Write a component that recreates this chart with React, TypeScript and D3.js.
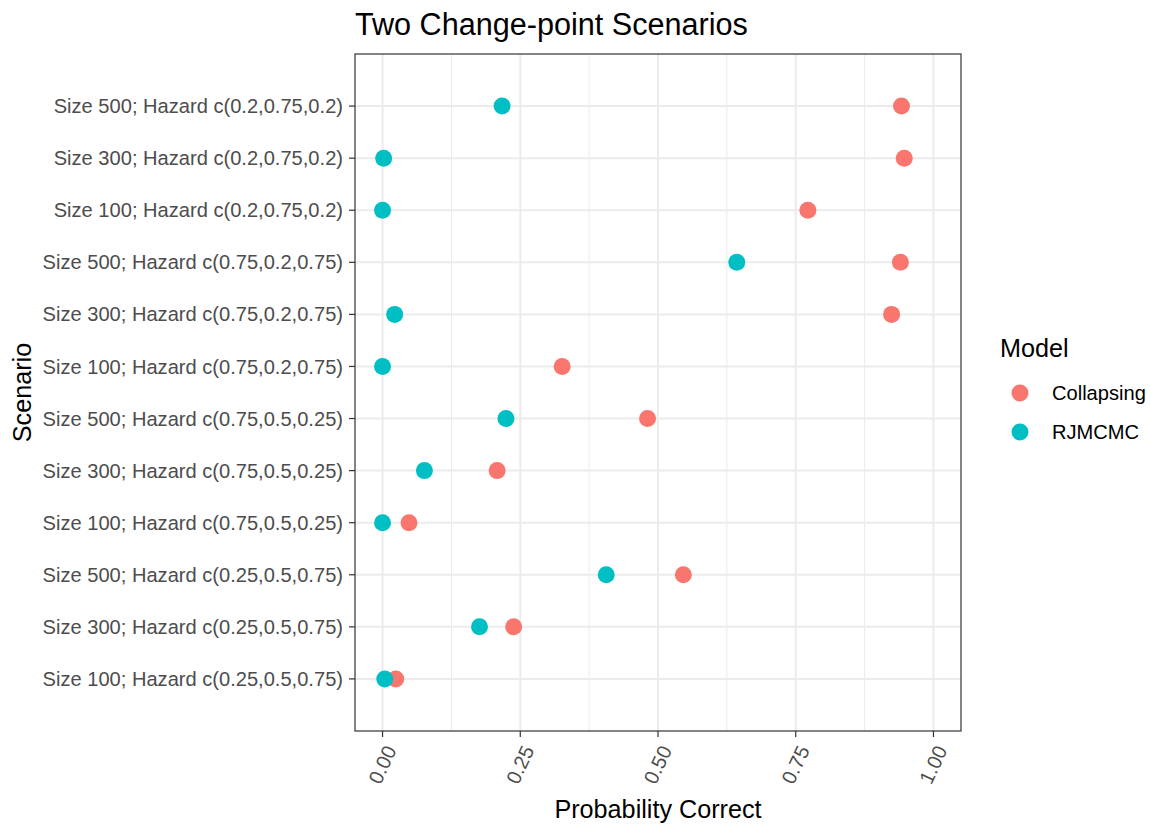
import React from 'react';
import * as d3 from 'd3';

const scenarios = [
  'Size 500; Hazard c(0.2,0.75,0.2)',
  'Size 300; Hazard c(0.2,0.75,0.2)',
  'Size 100; Hazard c(0.2,0.75,0.2)',
  'Size 500; Hazard c(0.75,0.2,0.75)',
  'Size 300; Hazard c(0.75,0.2,0.75)',
  'Size 100; Hazard c(0.75,0.2,0.75)',
  'Size 500; Hazard c(0.75,0.5,0.25)',
  'Size 300; Hazard c(0.75,0.5,0.25)',
  'Size 100; Hazard c(0.75,0.5,0.25)',
  'Size 500; Hazard c(0.25,0.5,0.75)',
  'Size 300; Hazard c(0.25,0.5,0.75)',
  'Size 100; Hazard c(0.25,0.5,0.75)',
];

const collapsing = [0.942, 0.947, 0.772, 0.94, 0.924, 0.326, 0.481, 0.208, 0.048, 0.546, 0.238, 0.024];
const rjmcmc = [0.217, 0.002, 0.0, 0.643, 0.022, 0.0, 0.224, 0.076, 0.0, 0.406, 0.176, 0.004];

const models = ['Collapsing', 'RJMCMC'];
const modelColors = ['#F8766D', '#00BFC4'];

const xTicks = [0, 0.25, 0.5, 0.75, 1];
const xMinor = [0.125, 0.375, 0.625, 0.875];

const W = 1150;
const H = 825;
const margin = { top: 54, right: 189, bottom: 94, left: 355 };
const font = '"Liberation Sans", Arial, Helvetica, sans-serif';

const App = () => {
  const innerW = W - margin.left - margin.right;
  const innerH = H - margin.top - margin.bottom;

  const x = d3.scaleLinear().domain([-0.05, 1.05]).range([0, innerW]);
  const y = d3.scalePoint<string>().domain(scenarios).range([0, innerH]).padding(1);

  const series = [collapsing, rjmcmc];

  return (
    <div style={{ position: 'absolute', left: 0, top: 0 }}>
      <svg width={W} height={H} style={{ fontFamily: font, display: 'block' }}>
        <rect width={W} height={H} fill="#ffffff" />
        <text x={margin.left} y={35} fontSize={30.6} fill="#000">Two Change-point Scenarios</text>

        <g transform={`translate(${margin.left},${margin.top})`}>
          {/* grid */}
          {xMinor.map(t => (
            <line key={`mn-${t}`} x1={x(t)} x2={x(t)} y1={0} y2={innerH} stroke="#EBEBEB" strokeWidth={1} />
          ))}
          {xTicks.map(t => (
            <line key={`mj-${t}`} x1={x(t)} x2={x(t)} y1={0} y2={innerH} stroke="#EBEBEB" strokeWidth={2} />
          ))}
          {scenarios.map(s => (
            <line key={`gy-${s}`} x1={0} x2={innerW} y1={y(s)} y2={y(s)} stroke="#EBEBEB" strokeWidth={2} />
          ))}

          {/* points */}
          {series.map((vals, si) =>
            vals.map((v, i) => (
              <circle key={`p-${si}-${i}`} cx={x(v)} cy={y(scenarios[i])} r={8.5} fill={modelColors[si]} />
            ))
          )}

          <rect x={0} y={0} width={innerW} height={innerH} fill="none" stroke="#333333" strokeWidth={1.2} />

          {/* y axis */}
          {scenarios.map(s => (
            <g key={`yt-${s}`} transform={`translate(0,${y(s)})`}>
              <line x1={-6} x2={0} stroke="#333333" strokeWidth={1.2} />
              <text x={-12} dy="0.35em" textAnchor="end" fontSize={20.1} fill="#4D4D4D">{s}</text>
            </g>
          ))}

          {/* x axis */}
          {xTicks.map(t => (
            <g key={`xt-${t}`} transform={`translate(${x(t)},${innerH})`}>
              <line y1={0} y2={6} stroke="#333333" strokeWidth={1.2} />
              <text
                transform="translate(8,16) rotate(-65)"
                textAnchor="end"
                dy="0.35em"
                fontSize={20.1}
                fill="#4D4D4D"
              >
                {d3.format('.2f')(t)}
              </text>
            </g>
          ))}

          <text x={innerW / 2} y={innerH + 87} textAnchor="middle" fontSize={25.2} fill="#000">Probability Correct</text>
          <text transform={`translate(-324,${innerH / 2}) rotate(-90)`} textAnchor="middle" fontSize={25.2} fill="#000">Scenario</text>
        </g>

        {/* legend */}
        <g transform="translate(1000,0)">
          <text x={0} y={357} fontSize={25.2} fill="#000">Model</text>
          {models.map((m, i) => (
            <g key={m} transform={`translate(0,${393 + i * 39})`}>
              <circle cx={20} cy={0} r={8.5} fill={modelColors[i]} />
              <text x={52} dy="0.35em" fontSize={20.1} fill="#000">{m}</text>
            </g>
          ))}
        </g>
      </svg>
    </div>
  );
};

export default App;
